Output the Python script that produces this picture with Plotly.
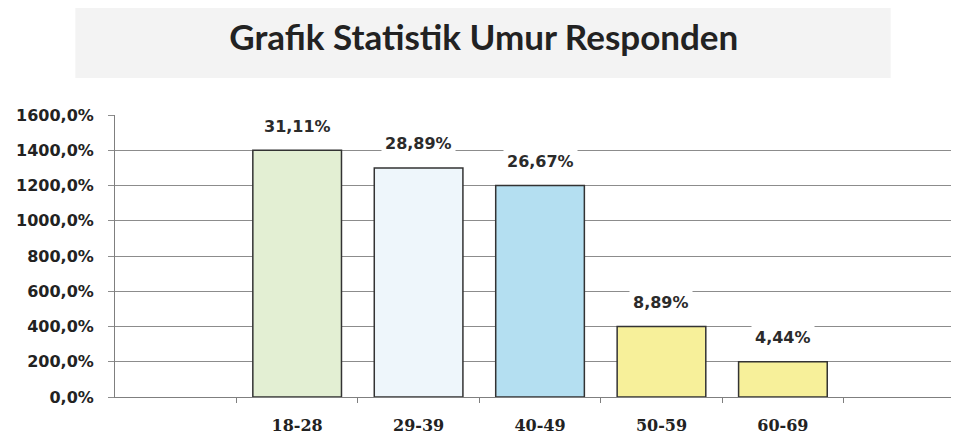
import plotly.graph_objects as go

# Data
age_groups = ["18-28", "29-39", "40-49", "50-59", "60-69"]
bar_values = [14.0, 13.0, 12.0, 4.0, 2.0]          # plotted as 1400%, 1300% ...
bar_labels = ["31,11%", "28,89%", "26,67%", "8,89%", "4,44%"]
bar_colors = ["#e3efd3", "#eef6fb", "#b4dff1", "#f7f09a", "#f7f09a"]

# one empty slot on each side of the bars, as in the original
positions = list(range(1, len(age_groups) + 1))
boundaries = [p - 0.5 for p in positions] + [positions[-1] + 0.5]

fig = go.Figure()

fig.add_trace(
    go.Bar(
        x=positions,
        y=bar_values,
        width=0.73,
        marker=dict(color=bar_colors, line=dict(color="#333333", width=1.5)),
        hoverinfo="skip",
    )
)

# data labels with white background (covers the gridlines like Excel does)
for xp, yv, lab in zip(positions, bar_values, bar_labels):
    fig.add_annotation(
        x=xp,
        y=yv,
        yshift=24,
        text=lab,
        showarrow=False,
        bgcolor="white",
        borderpad=3,
        font=dict(family="DejaVu Sans", size=16, color="#2b2b2b", weight="bold"),
    )

# light grey box behind the title
fig.add_shape(
    type="rect",
    xref="paper",
    yref="paper",
    x0=-0.047,
    x1=0.919,
    y0=1.131,
    y1=1.43,
    fillcolor="#f3f3f3",
    line=dict(width=0),
    layer="below",
)

# the page body has an 8px margin, so margins are shifted to compensate
fig.update_layout(
    width=959,
    height=440,
    margin=dict(l=102, r=8, t=107, b=51),
    paper_bgcolor="white",
    plot_bgcolor="white",
    separators=",.",
    showlegend=False,
    title=dict(
        text="<b>Grafik Statistik Umur Responden</b>",
        x=0.437,
        xref="paper",
        xanchor="center",
        y=0.932,
        yref="container",
        yanchor="middle",
        font=dict(family="Lato", size=35, color="#222222"),
    ),
    xaxis=dict(
        range=[-0.5, 6.45],
        tickvals=positions,
        ticktext=age_groups,
        ticks="",
        ticklabelstandoff=14,
        showgrid=False,
        zeroline=False,
        showline=True,
        linecolor="#7f7f7f",
        linewidth=1,
        tickfont=dict(family="DejaVu Serif", size=16, color="#222222", weight="bold"),
        minor=dict(tickvals=boundaries, ticks="outside", ticklen=5, tickcolor="#7f7f7f", showgrid=False),
    ),
    yaxis=dict(
        range=[0, 16],
        dtick=2,
        tickformat=".1%",
        showgrid=True,
        gridcolor="#8c8c8c",
        gridwidth=1,
        zeroline=False,
        showline=True,
        linecolor="#7f7f7f",
        linewidth=1,
        ticks="outside",
        ticklen=6,
        tickcolor="#8c8c8c",
        ticklabelstandoff=11,
        tickfont=dict(family="DejaVu Sans", size=16, color="#222222", weight="bold"),
    ),
)

fig.write_html("out.html")
